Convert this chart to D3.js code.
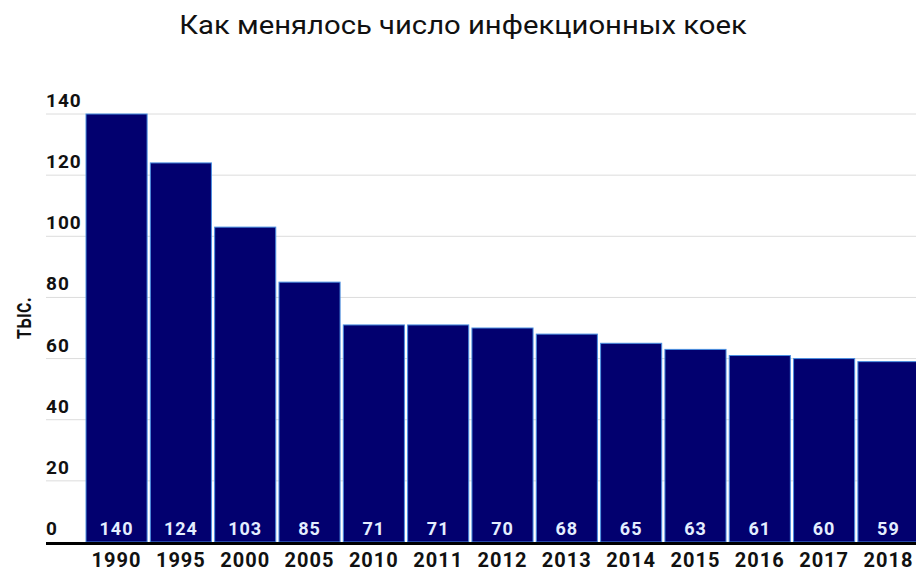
<!DOCTYPE html>
<html>
<head>
<meta charset="utf-8">
<script src="https://cdn.jsdelivr.net/npm/d3@7"></script>
<style>
  body { margin: 0; background: #fff; }
  svg { display: block; font-family: Roboto, "Noto Sans", sans-serif; }
</style>
</head>
<body>
<svg id="drawing_region"></svg>
<script>
const years = ["1990","1995","2000","2005","2010","2011","2012","2013","2014","2015","2016","2017","2018"];
const beds = [140, 124, 103, 85, 71, 71, 70, 68, 65, 63, 61, 60, 59];
const yticks = [0, 20, 40, 60, 80, 100, 120, 140];

const config = {
    width: 916,
    height: 571,
    left: 46,
    barStart: 86,
    barEnd: 919,
    top: 114,
    bottom: 542
};

const svg = d3.select('#drawing_region')
    .attr('width', config.width)
    .attr('height', config.height);

const xscale = d3.scaleBand()
    .domain(years)
    .range([config.barStart, config.barEnd])
    .paddingInner(0.05)
    .paddingOuter(0);

const yscale = d3.scaleLinear()
    .domain([0, 140])
    .range([config.bottom, config.top]);

// title (reference is a bit stretched horizontally)
svg.append('text')
    .attr('transform', 'translate(463, 34) scale(1.17, 1)')
    .attr('text-anchor', 'middle')
    .style('font-size', '25px')
    .style('fill', '#111')
    .text('Как менялось число инфекционных коек');

// y label
svg.append('text')
    .attr('transform', 'translate(31, 318) rotate(-90)')
    .attr('text-anchor', 'middle')
    .attr('textLength', 42)
    .attr('lengthAdjust', 'spacingAndGlyphs')
    .style('font-size', '25px')
    .style('font-weight', 500)
    .style('fill', '#111')
    .text('тыс.');

// gridlines + tick labels
const grid = svg.append('g');
grid.selectAll('line')
    .data(yticks.filter(d => d > 0))
    .enter()
    .append('line')
    .attr('x1', config.left)
    .attr('x2', config.width)
    .attr('y1', d => yscale(d))
    .attr('y2', d => yscale(d))
    .attr('stroke', '#dcdcdc')
    .attr('stroke-width', 1);

grid.selectAll('text')
    .data(yticks)
    .enter()
    .append('text')
    .attr('x', config.left)
    .attr('y', d => yscale(d) - 7)
    .style('font-size', '19px')
    .style('font-weight', 'bold')
    .style('letter-spacing', '1px')
    .style('fill', '#111')
    .text(d => d);

// bars
svg.append('g').selectAll('rect')
    .data(beds)
    .enter()
    .append('rect')
    .attr('x', (d, i) => xscale(years[i]))
    .attr('y', d => yscale(d))
    .attr('width', xscale.bandwidth())
    .attr('height', d => yscale(0) - yscale(d))
    .attr('fill', '#02006f')
    .attr('stroke', '#4a8fe0')
    .attr('stroke-width', 1);

// value labels
svg.append('g').selectAll('text')
    .data(beds)
    .enter()
    .append('text')
    .attr('x', (d, i) => xscale(years[i]) + xscale.bandwidth() / 2)
    .attr('y', 535)
    .attr('text-anchor', 'middle')
    .style('font-size', '18px')
    .style('font-weight', 'bold')
    .style('letter-spacing', '1px')
    .style('fill', '#e4eeff')
    .text(d => d);

// x axis line
svg.append('line')
    .attr('x1', config.left)
    .attr('x2', config.width)
    .attr('y1', yscale(0) + 1.5)
    .attr('y2', yscale(0) + 1.5)
    .attr('stroke', '#000')
    .attr('stroke-width', 3);

// x axis labels
const xaxis = d3.axisBottom(xscale).tickSize(0).tickPadding(0);
const xg = svg.append('g')
    .attr('transform', `translate(0, 567)`)
    .call(xaxis);
xg.select('.domain').remove();
xg.selectAll('text')
    .attr('dy', 0)
    .style('font-family', 'Roboto, "Noto Sans", sans-serif')
    .style('font-size', '20px')
    .style('font-weight', 'bold')
    .style('letter-spacing', '1px')
    .style('fill', '#111');
</script>
</body>
</html>
